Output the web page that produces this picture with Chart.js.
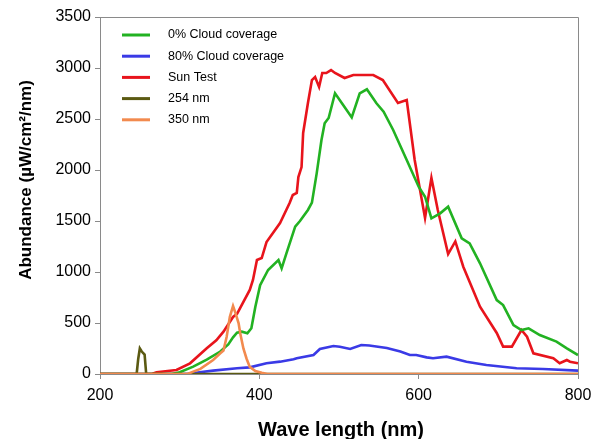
<!DOCTYPE html>
<html>
<head>
<meta charset="utf-8">
<script src="https://cdn.jsdelivr.net/npm/chart.js@4/dist/chart.umd.min.js"></script>
<style>
  body { margin: 0; background: #fff; }
  #wrap { width: 593px; height: 439px; position: relative; }
</style>
</head>
<body>
<div id="wrap"><canvas id="spectrum"></canvas></div>
<script>
// Data (wavelength nm, abundance µW/cm²/nm)
const seriesNames = ['0% Cloud coverage', '80% Cloud coverage', 'Sun Test', '254 nm', '350 nm'];
const seriesColors = ['#22b222', '#3a3ae6', '#e8141c', '#5b5a12', '#f28a4e'];

const clear0Nm  = [200, 290, 300, 317, 334, 351, 361, 367, 372, 378, 385, 390, 395, 401, 411, 424, 428, 434, 445, 451, 461, 466, 472, 478, 482, 487, 495, 505, 516, 526, 535, 547, 556, 568, 585, 600, 608, 616, 627, 637, 654, 664, 677, 698, 706, 719, 729, 738, 752, 773, 786, 800];
const clear0Val = [0, 0, 17, 72, 140, 220, 290, 360, 405, 415, 400, 448, 660, 870, 1020, 1118, 1036, 1183, 1444, 1500, 1608, 1680, 1967, 2294, 2458, 2510, 2752, 2640, 2515, 2752, 2791, 2654, 2572, 2392, 2098, 1836, 1738, 1526, 1575, 1640, 1330, 1281, 1085, 725, 676, 480, 431, 448, 382, 317, 252, 186];

const cloud80Nm  = [200, 310, 325, 342, 372, 388, 409, 426, 443, 447, 468, 476, 493, 501, 514, 528, 538, 560, 577, 589, 597, 610, 618, 635, 660, 685, 723, 756, 800];
const cloud80Val = [0, 0, 17, 33, 56, 65, 105, 121, 144, 154, 186, 245, 275, 268, 245, 284, 280, 255, 220, 186, 186, 163, 154, 170, 121, 88, 56, 49, 33];

const sunNm  = [200, 265, 271, 296, 313, 334, 346, 355, 367, 372, 388, 392, 397, 403, 409, 426, 438, 442, 447, 449, 453, 455, 461, 466, 470, 475, 479, 484, 490, 495, 507, 518, 543, 555, 574, 585, 595, 608, 616, 624, 637, 646, 656, 677, 698, 706, 717, 729, 736, 744, 769, 777, 786, 790, 800];
const sunVal = [0, 0, 17, 39, 105, 252, 330, 415, 559, 590, 824, 922, 1118, 1137, 1294, 1480, 1676, 1755, 1775, 1931, 2029, 2363, 2657, 2882, 2912, 2814, 2951, 2951, 2980, 2951, 2902, 2931, 2931, 2882, 2657, 2686, 2098, 1529, 1922, 1608, 1176, 1300, 1052, 660, 402, 268, 268, 431, 366, 203, 154, 105, 137, 121, 105];

const lamp254Nm  = [200, 246, 248, 250, 252, 254, 256, 258, 800];
const lamp254Val = [0, 0, 150, 250, 225, 206, 190, 0, 0];

const lamp350Nm  = [200, 310, 317, 326, 342, 351, 355, 359, 363, 367, 370, 374, 376, 380, 384, 388, 395, 403, 410, 800];
const lamp350Val = [0, 0, 23, 50, 137, 203, 230, 366, 560, 667, 600, 497, 400, 250, 150, 70, 30, 12, 0, 0];

const xTicks = [200, 400, 600, 800];
const yTicks = [0, 500, 1000, 1500, 2000, 2500, 3000, 3500];

const FONT = '"Liberation Sans", Arial, Helvetica, sans-serif';
const AXIS_GRAY = '#8a8a8a';

function pts(xs, ys) {
    return xs.map((x, i) => ({ x: x, y: ys[i] }));
}

const allNm = [clear0Nm, cloud80Nm, sunNm, lamp254Nm, lamp350Nm];
const allVal = [clear0Val, cloud80Val, sunVal, lamp254Val, lamp350Val];
const drawOrder = [2, 4, 3, 1, 0]; // lower = on top

const datasets = seriesNames.map((name, i) => ({
    label: name,
    data: pts(allNm[i], allVal[i]),
    borderColor: seriesColors[i],
    backgroundColor: seriesColors[i],
    borderWidth: 2.6,
    pointRadius: 0,
    tension: 0,
    fill: false,
    order: drawOrder[i]
}));

// Box around plot, legend inside plot, axis titles
const decorations = {
    id: 'decorations',
    afterDatasetsDraw(chart) {
        const c = chart.ctx;
        const a = chart.chartArea;
        c.save();
        c.strokeStyle = AXIS_GRAY;
        c.lineWidth = 1;
        c.beginPath();
        c.moveTo(a.left, a.top + 0.5);
        c.lineTo(a.right + 0.5, a.top + 0.5);
        c.lineTo(a.right + 0.5, a.bottom);
        c.stroke();

        // legend
        c.font = '12.5px ' + FONT;
        c.textBaseline = 'middle';
        c.fillStyle = '#000';
        seriesNames.forEach((name, i) => {
            const y = 35 + i * 21.2;
            c.strokeStyle = seriesColors[i];
            c.lineWidth = 3;
            c.beginPath();
            c.moveTo(122, y);
            c.lineTo(150, y);
            c.stroke();
            c.fillText(name, 168, y);
        });
        c.restore();
    },
    afterDraw(chart) {
        const c = chart.ctx;
        c.save();
        c.fillStyle = '#000';
        c.textAlign = 'center';
        c.textBaseline = 'middle';
        c.font = 'bold 20px ' + FONT;
        c.fillText('Wave length (nm)', 341, 430);
        c.translate(26, 180);
        c.rotate(-Math.PI / 2);
        c.font = 'bold 17px ' + FONT;
        c.fillText('Abundance (µW/cm²/nm)', 0, 0);
        c.restore();
    }
};

new Chart(document.getElementById('spectrum'), {
    type: 'line',
    data: { datasets: datasets },
    options: {
        responsive: true,
        maintainAspectRatio: false,
        animation: false,
        layout: { padding: { top: 17, right: 15, left: 0, bottom: 0 } },
        plugins: {
            legend: { display: false },
            tooltip: { enabled: false }
        },
        scales: {
            x: {
                type: 'linear',
                min: 200,
                max: 800,
                afterFit: (s) => { s.height = 65; s.paddingRight = 0; s.paddingLeft = 0; },
                afterBuildTicks: (s) => { s.ticks = xTicks.map(v => ({ value: v })); },
                ticks: { color: '#000', font: { family: FONT, size: 16 }, padding: 7, callback: (v) => String(v) },
                grid: { drawOnChartArea: false, tickLength: 5, color: AXIS_GRAY },
                border: { color: AXIS_GRAY, width: 1 }
            },
            y: {
                min: 0,
                max: 3500,
                afterFit: (s) => { s.width = 100; s.paddingTop = 0; s.paddingBottom = 0; },
                afterBuildTicks: (s) => { s.ticks = yTicks.map(v => ({ value: v })); },
                ticks: { color: '#000', font: { family: FONT, size: 16 }, padding: 4, callback: (v) => String(v) },
                grid: { drawOnChartArea: false, tickLength: 5, color: AXIS_GRAY },
                border: { color: AXIS_GRAY, width: 1 }
            }
        }
    },
    plugins: [decorations]
});
</script>
</body>
</html>
